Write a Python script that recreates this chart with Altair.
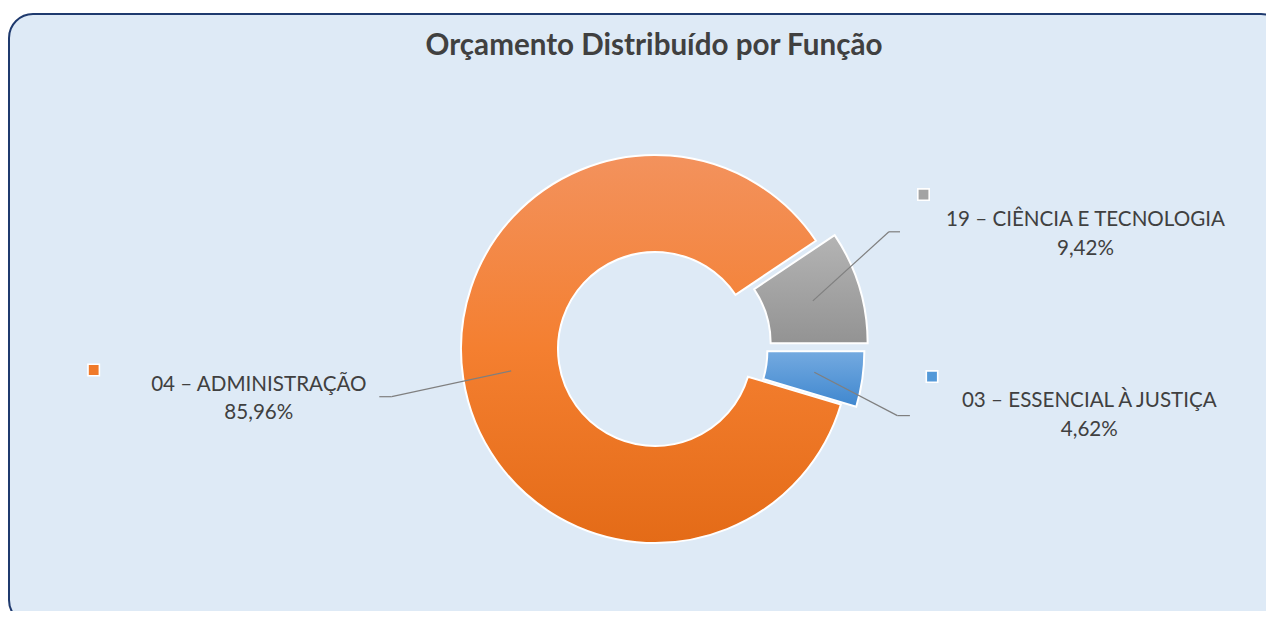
import math
import altair as alt
import pandas as pd

# ---- data ----
CODES = ["03", "04", "19"]
CATEGORIES = ["03 – ESSENCIAL À JUSTIÇA", "04 – ADMINISTRAÇÃO", "19 – CIÊNCIA E TECNOLOGIA"]
VALUES = [4.62, 85.96, 9.42]
ORDER = [0, 1, 2]
TITLE = "Orçamento Distribuído por Função"

# ---- layout / style ----
W, H = 1258, 603
CX, CY = 647, 341
R_OUT, R_IN = 194, 97
R_MID = (R_OUT + R_IN) / 2
START = math.pi / 2
FONT = "Lato"
TEXT_COLOR = "#404040"
LABEL_SIZE = 20.6

STYLE = {
    "03": dict(explode=15.5, lx=1081.3, ly1=399, ly2=428, ex=889.4, ey=407.6, endx=901.9,
               kx=924, ky=368.6, key="#5499d8",
               grad=[("#74aae0", 0), ("#3f87cf", 1)]),
    "04": dict(explode=0.0, lx=250.8, ly1=382.7, ly2=411.3, ex=383.7, ey=388.7, endx=371.3,
               kx=85.7, ky=362, key="#f07a2a",
               grad=[("#f3925d", 0), ("#f47f30", 0.5), ("#e46b17", 1)]),
    "19": dict(explode=19.5, lx=1077.5, ly1=217.5, ly2=247, ex=880.9, ey=223.8, endx=892,
               kx=915.5, ky=186.6, key="#a3a3a3",
               grad=[("#b4b4b4", 0), ("#939393", 1)]),
}

df = pd.DataFrame({"code": CODES, "cat": CATEGORIES, "value": VALUES, "ord": ORDER})
for k in ["explode", "lx", "ly1", "ly2", "ex", "ey", "endx", "kx", "ky", "key"]:
    df[k] = [STYLE[c][k] for c in CODES]

base = (
    alt.Chart(df)
    .transform_joinaggregate(total="sum(value)")
    .transform_window(cum="sum(value)", sort=[alt.SortField("ord")], frame=[None, 0])
    .transform_calculate(
        a1=f"{START} + 2*PI*datum.cum/datum.total",
        a0=f"{START} + 2*PI*(datum.cum - datum.value)/datum.total",
        mid="(datum.a0 + datum.a1)/2",
        cx=f"{CX} + datum.explode*sin(datum.mid)",
        cy=f"{CY} - datum.explode*cos(datum.mid)",
        sx=f"datum.cx + {R_MID}*sin(datum.mid)",
        sy=f"datum.cy - {R_MID}*cos(datum.mid)",
        pct="replace(format(100*datum.value/datum.total, '.2f'), '.', ',') + '%'",
    )
)

def X(f):
    return alt.X(f"{f}:Q", scale=None, axis=None)

def Y(f):
    return alt.Y(f"{f}:Q", scale=None, axis=None)

one = alt.Chart(pd.DataFrame({"a": [0]}))

frame = one.mark_rect(
    fill="#deeaf6", stroke="#1f3a6e", strokeWidth=2, cornerRadius=24
).encode(x=alt.value(1), x2=alt.value(1277), y=alt.value(6), y2=alt.value(616))

title = one.mark_text(
    text=TITLE, font=FONT, fontSize=29.6, fontWeight="bold", color=TEXT_COLOR,
    align="center", baseline="alphabetic",
).encode(x=alt.value(646), y=alt.value(47))

arcs = []
for c in CODES:
    stops = [alt.GradientStop(color=col, offset=off) for col, off in STYLE[c]["grad"]]
    grad = alt.LinearGradient(gradient="linear", stops=stops, x1=0, y1=0, x2=0, y2=1)
    arcs.append(
        base.transform_filter(f"datum.code == '{c}'")
        .mark_arc(innerRadius=R_IN, outerRadius=R_OUT, fill=grad, stroke="white", strokeWidth=2)
        .encode(theta=alt.Theta("a0:Q", scale=None), theta2="a1:Q", x=X("cx"), y=Y("cy"))
    )

lead1 = base.mark_rule(color="#7f7f7f", strokeWidth=1.2).encode(
    x=X("sx"), y=Y("sy"), x2="ex:Q", y2="ey:Q")
lead2 = base.mark_rule(color="#7f7f7f", strokeWidth=1.2).encode(
    x=X("ex"), y=Y("ey"), x2="endx:Q", y2="ey:Q")

lab1 = base.mark_text(font=FONT, fontSize=LABEL_SIZE, color=TEXT_COLOR, align="center",
                      baseline="alphabetic").encode(x=X("lx"), y=Y("ly1"), text="cat:N")
lab2 = base.mark_text(font=FONT, fontSize=LABEL_SIZE, color=TEXT_COLOR, align="center",
                      baseline="alphabetic").encode(x=X("lx"), y=Y("ly2"), text="pct:N")

keys = base.mark_square(size=130, filled=True, stroke="white", strokeWidth=1.6, opacity=1).encode(
    x=X("kx"), y=Y("ky"), color=alt.Color("key:N", scale=None))

chart = (
    alt.layer(frame, title, *arcs, lead1, lead2, lab1, lab2, keys)
    .properties(width=W, height=H, padding=0, autosize="none", background="white")
    .configure_view(stroke=None)
)

chart.save("out.html", embed_options={"renderer": "svg", "actions": False})
